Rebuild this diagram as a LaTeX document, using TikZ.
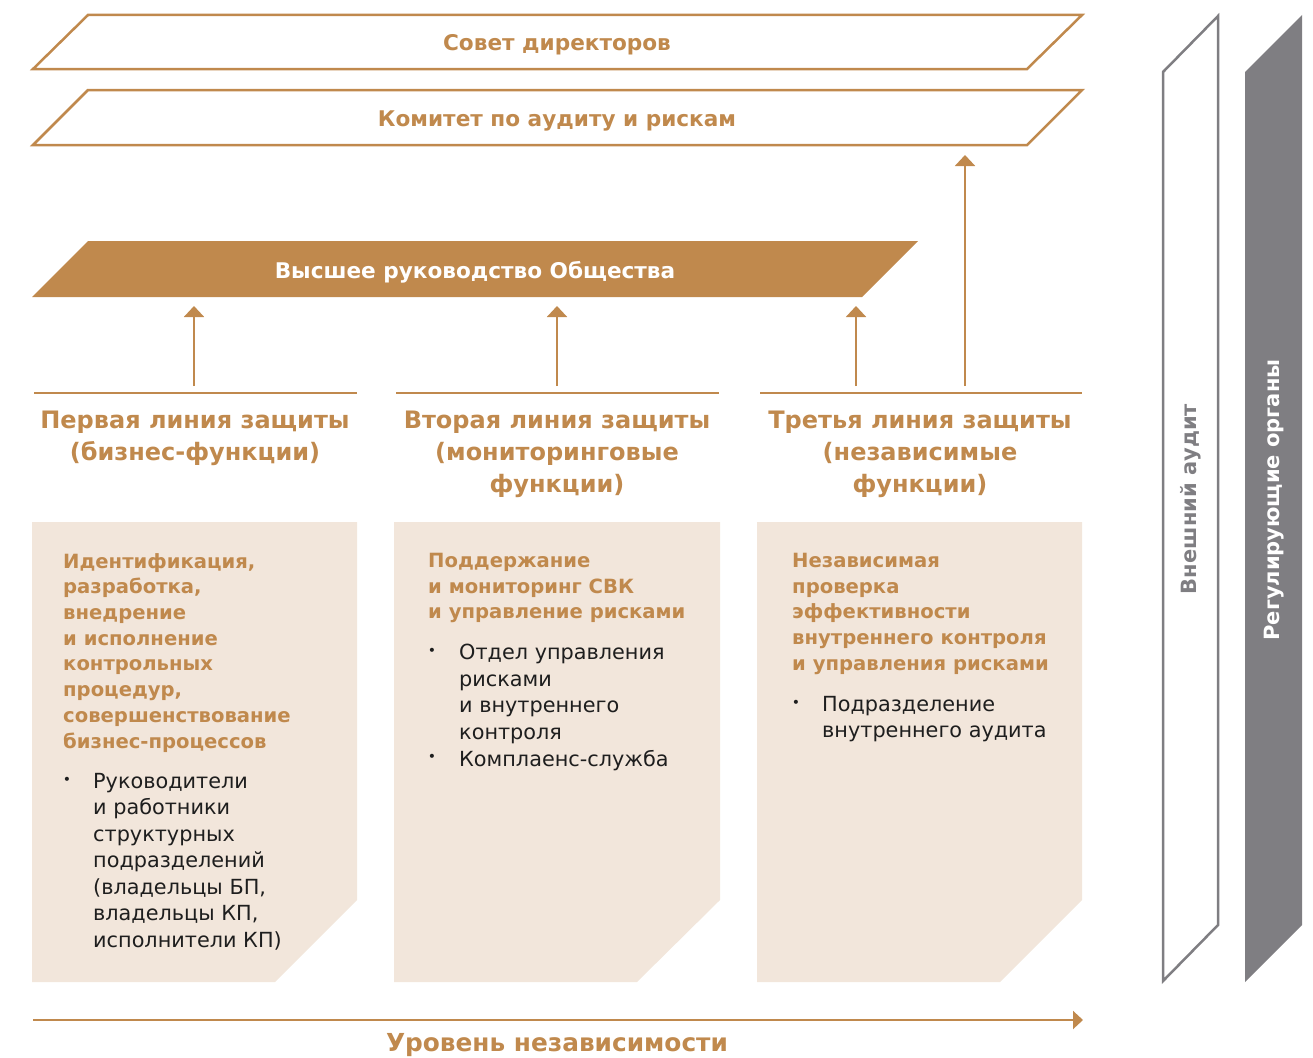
\documentclass[tikz,border=0pt]{standalone}
\usepackage{fontspec}
\setmainfont{DejaVu Sans}
\newfontfamily\wf{DejaVu Sans}
\usetikzlibrary{arrows.meta}
\definecolor{brn}{RGB}{192,137,77}
\definecolor{lbg}{RGB}{242,230,219}
\definecolor{gry}{RGB}{127,126,130}
\definecolor{txt}{RGB}{30,30,30}
\begin{document}
\begin{tikzpicture}[x=1pt,y=-1pt,
  frame/.style={draw=brn, line width=2.5pt, line join=miter},
  arr/.style={draw=brn, line width=2pt, -{Triangle[width=20pt,length=11pt]}},
  sep/.style={draw=brn, line width=2pt},
  title/.style={font=\wf\bfseries\fontsize{21.6}{24}\selectfont, text=brn, inner sep=0},
  head/.style={font=\wf\bfseries\fontsize{24}{32}\selectfont, text=brn, align=center, inner sep=0, anchor=north},
  lead/.style={font=\wf\bfseries\fontsize{19.6}{25.7}\selectfont, text=brn, align=left, inner sep=0, anchor=north west},
  body/.style={font=\wf\fontsize{20.8}{26.5}\selectfont, text=txt, align=left, inner sep=0, anchor=north west},
  bul/.style={font=\fontsize{14}{14}\selectfont, text=txt, inner sep=0, anchor=center},
  box/.style={fill=lbg}
]
\useasboundingbox (0,0) rectangle (1313,1057);
% top frames
\draw[frame] (33,69) -- (88,15) -- (1082,15) -- (1027,69) -- cycle;
\node[title] (board) at (557,45) {Совет директоров};
\draw[frame] (33,145) -- (88,90) -- (1082,90) -- (1027,145) -- cycle;
\node[title] (audit) at (557,121) {Комитет по аудиту и рискам};
\coordinate (auditb) at (965,155);
% management
\fill[brn] (32,297) -- (88,241) -- (918,241) -- (862,297) -- cycle;
\node[title, text=white] (mgmt) at (475,272) {Высшее руководство Общества};
\coordinate (m1) at (194,306);
\coordinate (m2) at (557,306);
\coordinate (m3) at (856,306);
% separators
\draw[sep] (34,393) -- (357,393);
\draw[sep] (396,393) -- (719,393);
\draw[sep] (760,393) -- (1082,393);
\coordinate (s1) at (194,386);
\coordinate (s2) at (557,386);
\coordinate (s3) at (856,386);
\coordinate (s4) at (965,386);
\draw[arr] (s1) -- (m1);
\draw[arr] (s2) -- (m2);
\draw[arr] (s3) -- (m3);
\draw[arr] (s4) -- (auditb);
% headings
\node[head] (h1) at (195,411) {Первая линия защиты\\(бизнес-функции)};
\node[head] (h2) at (557,411) {Вторая линия защиты\\(мониторинговые\\функции)};
\node[head] (h3) at (920,411) {Третья линия защиты\\(независимые\\функции)};
% boxes
\fill[box] (32,522) -- (357,522) -- (357,900) -- (275,982) -- (32,982) -- cycle;
\fill[box] (394,522) -- (720,522) -- (720,900) -- (637,982) -- (394,982) -- cycle;
\fill[box] (757,522) -- (1082,522) -- (1082,900) -- (1000,982) -- (757,982) -- cycle;
\node[lead] (l1) at (63,553) {Идентификация,\\разработка,\\внедрение\\и исполнение\\контрольных\\процедур,\\совершенствование\\бизнес-процессов};
\node[bul] (b11) at (67,781) {•};
\node[body] (t11) at (93,773) {Руководители\\и работники\\структурных\\подразделений\\(владельцы БП,\\владельцы КП,\\исполнители КП)};
\node[lead] (l2) at (428,553) {Поддержание\\и мониторинг СВК\\и управление рисками};
\node[bul] (b21) at (432,652) {•};
\node[body] (t21) at (459,644) {Отдел управления\\рисками\\и внутреннего\\контроля};
\node[bul] (b22) at (432,758) {•};
\node[body] (t22) at (459,750) {Комплаенс-служба};
\node[lead] (l3) at (792,553) {Независимая\\проверка\\эффективности\\внутреннего контроля\\и управления рисками};
\node[bul] (b31) at (796,704) {•};
\node[body] (t31) at (822,696) {Подразделение\\внутреннего аудита};
% bottom axis
\coordinate (ax0) at (33,1020);
\coordinate (ax1) at (1083,1020);
\draw[draw=brn, line width=2pt, -{Triangle[width=18pt,length=10pt]}] (ax0) -- (ax1);
\node[font=\wf\bfseries\fontsize{24.8}{28}\selectfont, text=brn, inner sep=0] (lvl) at (557,1045) {Уровень независимости};
% right bars
\draw[draw=gry, line width=2.5pt, line join=miter] (1163,72) -- (1218,16) -- (1218,925) -- (1163,981) -- cycle;
\node[rotate=90, font=\wf\bfseries\fontsize{21}{24}\selectfont, text=gry, inner sep=0] (ext) at (1191,499) {Внешний аудит};
\fill[gry] (1245,72) -- (1302,15) -- (1302,925) -- (1245,982) -- cycle;
\node[rotate=90, font=\wf\bfseries\fontsize{21}{24}\selectfont, text=white, inner sep=0] (reg) at (1274,500) {Регулирующие органы};
\end{tikzpicture}
\end{document}
